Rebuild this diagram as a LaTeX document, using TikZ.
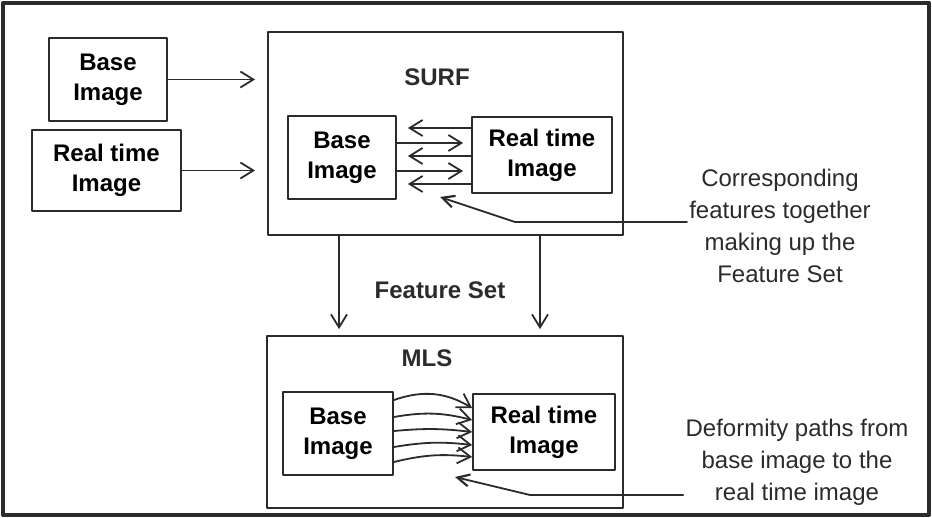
\documentclass[tikz,border=0pt]{standalone}
\usepackage{fontspec}
\setmainfont{Liberation Sans}
\usetikzlibrary{arrows.meta}

\tikzset{
	box/.style={draw=ink, line width=0.9pt, inner sep=0pt, align=center, font=\bfseries\fontsize{12}{15}\selectfont},
	title/.style={inner sep=0pt, text=ink, font=\bfseries\fontsize{12}{15}\selectfont},
	note/.style={inner sep=1pt, text=ink, align=center, font=\fontsize{12}{16}\selectfont},
	arr/.style={draw=ink, line width=0.9pt, -{Straight Barb[length=6.5pt, width=8pt, line width=0.9pt]}},
	ptr/.style={draw=ink, line width=0.9pt, -{Straight Barb[length=6pt, width=6pt, line width=1.1pt]}}
}
\definecolor{ink}{HTML}{2B2B2B}

\begin{document}
\begin{tikzpicture}[x=0.5pt, y=-0.5pt, line cap=round, line join=round]
				% Picture window (pixel grid of the figure, y pointing down)
				\useasboundingbox (0,0) rectangle (932,518);
				\draw[ink, line width=2pt] (3,3) rectangle (929,515);
				
				% Input images
				\node[box, minimum width=59pt, minimum height=41.5pt] (base) at (108,79.5) {Base\\Image};
				\node[box, minimum width=74.5pt, minimum height=40.5pt] (real) at (106.5,170.5) {Real time\\Image};
				
				% SURF stage with its two images
				\node[box, minimum width=177.5pt, minimum height=101.5pt] (surf) at (445.5,133.5) {};
				\node[title] (surftitle) at (437,77) {SURF};
				\node[box, minimum width=54pt, minimum height=41.5pt] (sbase) at (342,157.5) {Base\\Image};
				\node[box, minimum width=70pt, minimum height=38pt] (sreal) at (542,155) {Real time\\Image};
				
				% MLS stage with its two images
				\node[box, minimum width=178pt, minimum height=86pt] (mls) at (445,422) {};
				\node[title] (mlstitle) at (427,358) {MLS};
				\node[box, minimum width=55pt, minimum height=41.5pt] (mbase) at (338,433.5) {Base\\Image};
				\node[box, minimum width=71pt, minimum height=38pt] (mreal) at (544,432) {Real time\\Image};
				
				\node[title] (fs) at (440,290) {Feature Set};
				
				% Inputs into SURF
				\draw[arr, shorten >=6pt] (base.east) -- (base.east -| surf.west);
				\draw[arr, shorten >=6pt] (real.east) -- (real.east -| surf.west);
				
				% Matched features, both ways
				\foreach \y in {128,156,184}
					\draw[arr, shorten >=5.5pt] (sreal.west |- 0,\y) -- (sbase.east |- 0,\y);
				\foreach \y in {143,171}
					\draw[arr, shorten >=4pt] (sbase.east |- 0,\y) -- (sreal.west |- 0,\y);
				
				% Feature set handed down to MLS
				\foreach \x in {339,540}
					\draw[arr, shorten >=3pt] (surf.south -| \x,0) -- (mls.north -| \x,0);
				
				% Deformity paths
				\foreach \a/\b/\k in {400/408/25, 417/420/12, 431/432/6, 447/445/8, 462/457/10}
					\draw[arr] (mbase.east |- 0,\a) to[bend left=\k] (mreal.west |- 0,\b);
				
				% Callouts
				\node[note] (corr) at (780,226) {Corresponding\\features together\\making up the\\Feature Set};
				\coordinate (c1) at (515,222);
				\coordinate (t1) at (440,197);
				\draw[ptr] (corr.west |- c1) -- (c1) -- (t1);
				
				\node[note] (deform) at (797,462.5) {Deformity paths from\\base image to the\\real time image};
				\coordinate (c2) at (530,495);
				\coordinate (t2) at (455,477);
				\draw[ptr] (deform.west |- c2) -- (c2) -- (t2);
			\end{tikzpicture}
\end{document}
